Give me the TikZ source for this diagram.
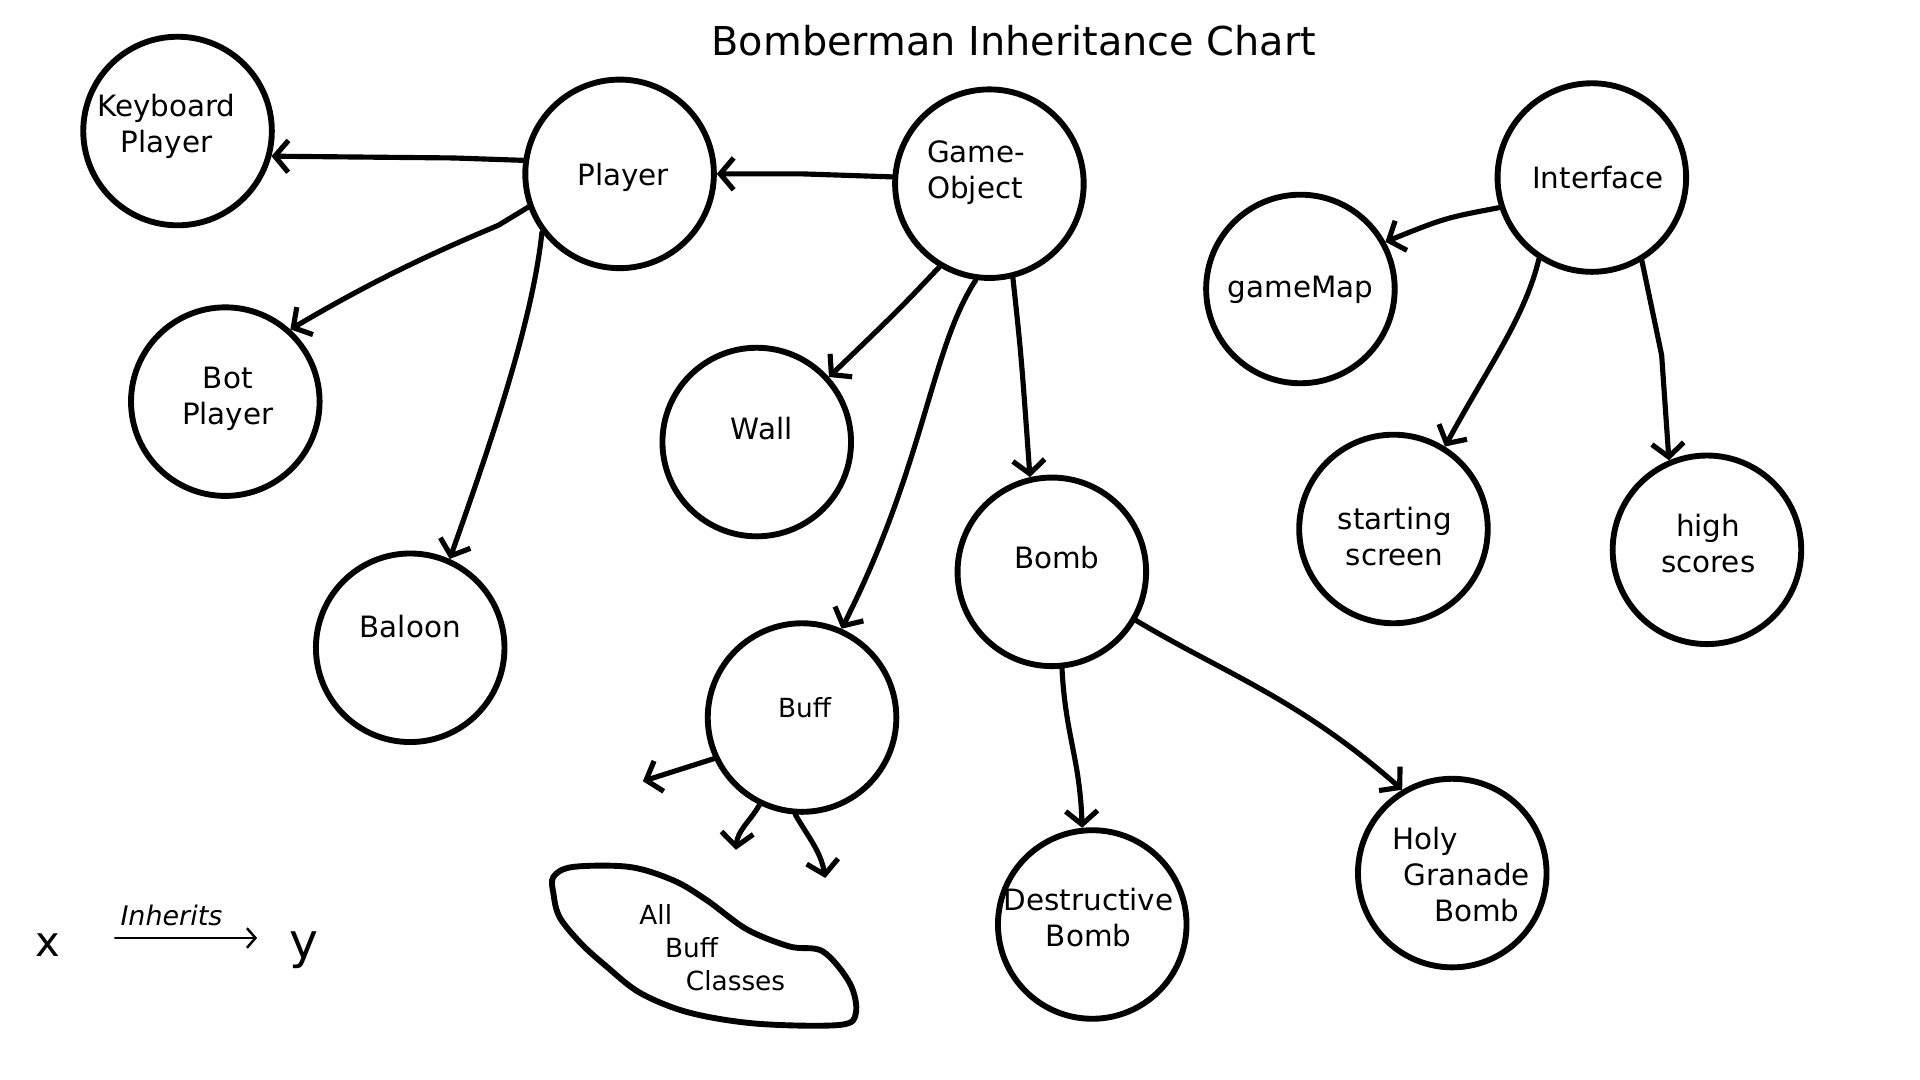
\documentclass[tikz,border=0pt]{standalone}
\usepackage{fontspec}
\setmainfont{DejaVu Sans}
\usetikzlibrary{arrows.meta}

\begin{document}
\begin{tikzpicture}[x=1pt,y=-1pt,
  obj/.style={draw, circle, line width=4.8pt, minimum size=154pt, inner sep=0pt},
  txt/.style={font=\fontsize{24}{29.5}\selectfont, align=center, inner sep=0pt},
  smalltxt/.style={font=\fontsize{21.5}{27}\selectfont, align=left, inner sep=0pt},
  inh/.style={line width=4.2pt, line cap=round,
    -{Straight Barb[length=11pt,width=26pt,line width=4.2pt]}}]
% Background
\useasboundingbox[fill=white] (0,0) rectangle (1568,882);
% Title
\node[font=\fontsize{32.5}{38}\selectfont] (title) at (828,33) {Bomberman Inheritance Chart};
% Draw the class circles
\node[obj] (kp) at (145,107) {};
\node[obj] (player) at (506,142) {};
\node[obj] (go) at (808,150) {};
\node[obj] (if) at (1300,145) {};
\node[obj] (gm) at (1062,236) {};
\node[obj] (bot) at (184,328) {};
\node[obj] (wall) at (618,361) {};
\node[obj] (bomb) at (859,467) {};
\node[obj] (ss) at (1138,432) {};
\node[obj] (hs) at (1394,449) {};
\node[obj] (baloon) at (335,529) {};
\node[obj] (buff) at (655,586) {};
\node[obj] (db) at (892,755) {};
\node[obj] (hg) at (1186,713) {};
% Blob for the buff classes
\draw[line width=4.8pt, line join=round] plot[smooth cycle, tension=0.55] coordinates {
  (452,716) (468,708) (514,708) (550,719) (577,735) (610,759) (645,773)
  (672,777) (694,803) (699,827) (686,837) (618,836) (563,827) (523,811)
  (495,789) (474,770) (457,749) (452,730)};
% Add names
\node[txt] (kp-t) at (136,103) {Keyboard\\Player};
\node[txt] (player-t) at (509,144.5) {Player};
\node[txt, align=left, anchor=west] (go-t) at (757,141) {Game-\\Object};
\node[txt] (if-t) at (1305,145) {Interface};
\node[txt] (gm-t) at (1062,236.5) {gameMap};
\node[txt] (bot-t) at (186,326) {Bot\\Player};
\node[txt] (wall-t) at (622,350) {Wall};
\node[txt] (bomb-t) at (863,455) {Bomb};
\node[txt] (ss-t) at (1139,438) {starting\\screen};
\node[txt] (hs-t) at (1395,444) {high\\scores};
\node[txt] (baloon-t) at (335,512) {Baloon};
\node[smalltxt] (buff-t) at (657,578) {Buff};
\node[txt] (db-t) at (889,749) {Destructive\\Bomb};
\node[txt, align=left, anchor=west] (hg-t) at (1137,714)
  {Holy\\\hspace*{9pt}Granade\\\hspace*{34pt}Bomb};
\node[smalltxt, anchor=west] (abc-t) at (522,774)
  {All\\\hspace*{21pt}Buff\\\hspace*{38pt}Classes};
% Inheritance arrows
\draw[inh] (player.172) -- (370,129) -- (kp.-15);
\draw[inh] (go.176) -- (655,142) -- (player.0);
\draw[inh] (player.200) -- (407,184) .. controls (345,210) and (300,232) .. (bot.48);
\draw[inh] (player.217) .. controls (435,260) and (405,350) .. (baloon.66);
\draw[inh] (go.239) .. controls (735,252) .. (wall.42);
\draw[inh] (go.262) .. controls (760,285) and (755,380) .. (buff.66);
\draw[inh] (go.284) .. controls (834,290) .. (bomb.103);
\draw[inh] (if.198) .. controls (1180,178) .. (gm.29);
\draw[inh] (if.237) .. controls (1245,260) and (1215,300) .. (ss.58);
\draw[inh] (if.301) -- (1357,290) -- (hs.113);
\draw[inh] (bomb.276) .. controls (870,600) and (882,620) .. (db.96);
\draw[inh] (bomb.330) .. controls (1000,550) and (1060,570) .. (hg.121);
% Buff arrows without targets
\coordinate (bl) at (525,638);
\coordinate (bm) at (601,694);
\coordinate (br) at (674,717);
\draw[inh] (buff.205) -- (bl);
\draw[inh] (buff.244) to[out=-120,in=85] (bm);
\draw[inh] (buff.266) to[out=-60,in=100] (br);
% Legend
\node[font=\fontsize{34}{38}\selectfont] (lx) at (39,772) {x};
\node[font=\fontsize{40}{44}\selectfont] (ly) at (248,776) {y};
\coordinate (la) at (94,766);
\coordinate (lb) at (210,766);
\draw[line width=2pt, line cap=round, -{Straight Barb[length=7pt,width=16pt,line width=2pt]}] (la) -- (lb);
\node[font=\itshape\fontsize{22}{26}\selectfont] (inh-t) at (140,748) {Inherits};
\end{tikzpicture}
\end{document}
